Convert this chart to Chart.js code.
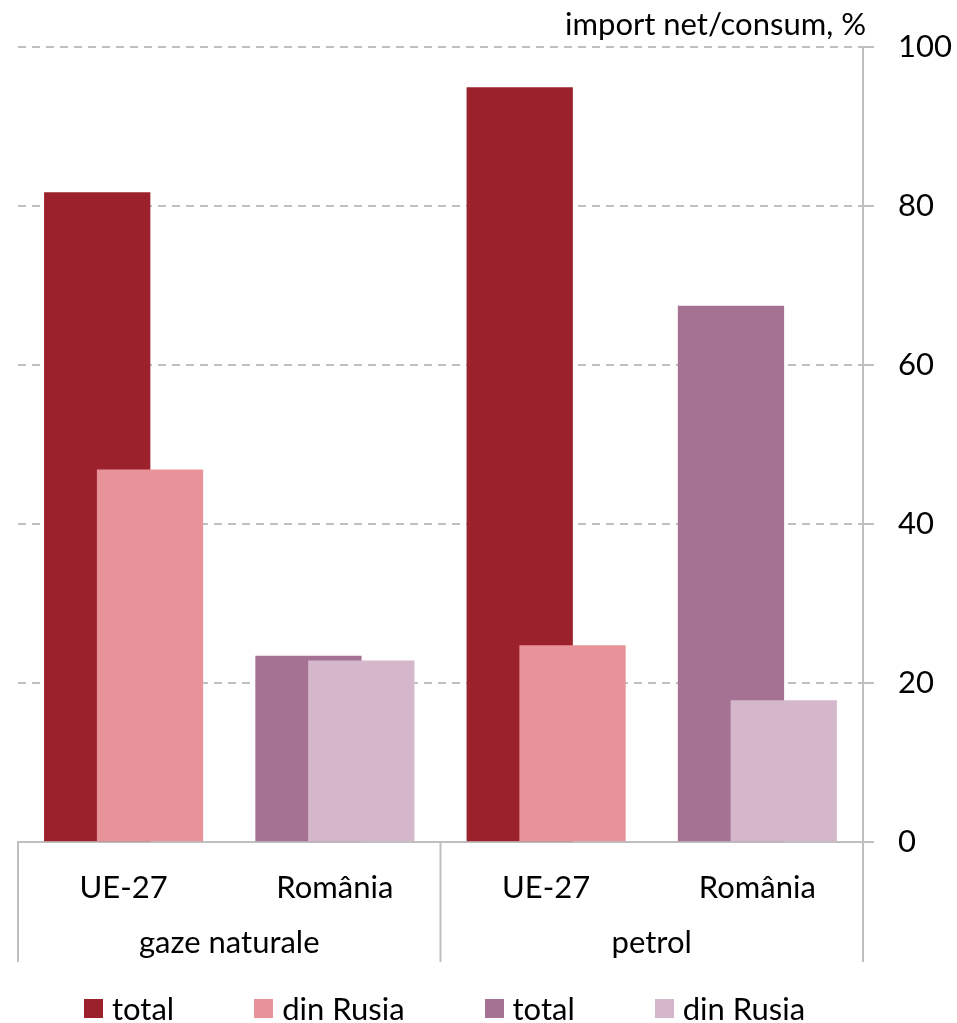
<!DOCTYPE html>
<html lang="ro">
<head>
<meta charset="utf-8">
<title>Import net / consum</title>
<script src="https://cdn.jsdelivr.net/npm/chart.js@4.4.1/dist/chart.umd.min.js"></script>
<style>
  html, body { margin: 0; padding: 0; background: #fff; }
  #wrap { position: relative; width: 957px; height: 1023px; }
  #legend { position: absolute; left: 84px; top: 993px; display: flex; font-family: Lato, sans-serif; font-size: 31px; line-height: 31px; color: #000; }
  #legend .item { display: flex; align-items: center; margin-right: 80px; }
  #legend .box { width: 19px; height: 19px; margin-right: 9px; }
</style>
</head>
<body>
<div id="wrap">
  <canvas id="chart" width="957" height="1023"></canvas>
  <div id="legend"></div>
</div>
<script>
const categories = ['UE-27', 'România', 'UE-27', 'România'];
const groups = ['gaze naturale', 'petrol'];
const ueTotal = [81.7, null, 94.9, null];
const ueRusia = [46.8, null, 24.7, null];
const roTotal = [null, 23.4, null, 67.4];
const roRusia = [null, 22.8, null, 17.8];
const seriesNames = ['total', 'din Rusia', 'total', 'din Rusia'];
const seriesColors = ['#9B222D', '#E8939A', '#A57294', '#D5B7CB'];
const yMin = 0, yMax = 100, yStep = 20;
const axisTitle = 'import net/consum, %';

const gridGray = '#BFBFBF';
Chart.defaults.font.family = 'Lato, sans-serif';
Chart.defaults.font.size = 31;
Chart.defaults.color = '#000';

// left bar of each pair goes under the right one
const drawInOrder = {
  id: 'drawInOrder',
  beforeDatasetsDraw(chart) {
    chart.getSortedVisibleDatasetMetas().forEach(meta => meta.controller.draw());
    return false;
  }
};

// group separators under the axis + unit label over the value axis
const extras = {
  id: 'extras',
  afterDraw(chart) {
    const { ctx, chartArea } = chart;
    const x2 = chart.scales.x2;
    ctx.save();
    ctx.strokeStyle = gridGray;
    ctx.lineWidth = 2;
    const n = groups.length;
    for (let i = 0; i <= n; i++) {
      const x = chartArea.left + (chartArea.right - chartArea.left) * i / n;
      ctx.beginPath();
      ctx.moveTo(x, chartArea.bottom);
      ctx.lineTo(x, x2.bottom);
      ctx.stroke();
    }
    ctx.fillStyle = '#000';
    ctx.font = '31px Lato, sans-serif';
    ctx.textAlign = 'right';
    ctx.textBaseline = 'alphabetic';
    ctx.fillText(axisTitle, chartArea.right + 3, chartArea.top - 12);
    ctx.restore();
  }
};

const htmlLegend = {
  id: 'htmlLegend',
  afterUpdate(chart) {
    const box = document.getElementById('legend');
    box.innerHTML = '';
    chart.data.datasets.forEach(ds => {
      const item = document.createElement('div');
      item.className = 'item';
      const sw = document.createElement('span');
      sw.className = 'box';
      sw.style.background = ds.backgroundColor;
      const txt = document.createElement('span');
      txt.textContent = ds.label;
      item.appendChild(sw);
      item.appendChild(txt);
      box.appendChild(item);
    });
  }
};

const seriesData = [ueTotal, ueRusia, roTotal, roRusia];

new Chart(document.getElementById('chart'), {
  type: 'bar',
  data: {
    labels: categories,
    datasets: seriesData.map((d, i) => ({
      label: seriesNames[i],
      data: d,
      backgroundColor: seriesColors[i],
      borderWidth: 0,
      skipNull: true,
      categoryPercentage: 0.5,
      barPercentage: 2.0
    }))
  },
  options: {
    responsive: false,
    animation: false,
    layout: { padding: { left: 18, top: 47, right: 0, bottom: 61 } },
    plugins: {
      legend: { display: false },
      tooltip: { enabled: false }
    },
    scales: {
      x: {
        grid: { display: false, drawTicks: false },
        border: { display: true, color: gridGray, width: 2 },
        ticks: { padding: 27, maxRotation: 0, autoSkip: false },
        afterFit(scale) { scale.height = 68; }
      },
      x2: {
        type: 'category',
        labels: groups,
        position: 'bottom',
        offset: true,
        grid: { display: false, drawTicks: false },
        border: { display: false },
        ticks: { padding: 14, maxRotation: 0 },
        afterFit(scale) { scale.height = 52; }
      },
      y: {
        position: 'right',
        min: yMin,
        max: yMax,
        ticks: { stepSize: yStep, padding: 24 },
        grid: {
          color: gridGray,
          lineWidth: 2,
          tickLength: 11,
          tickColor: gridGray,
          tickWidth: 2,
          tickBorderDash: []
        },
        border: { display: true, color: gridGray, width: 2, dash: [8, 6] },
        afterFit(scale) { scale.width = 94; }
      }
    }
  },
  plugins: [drawInOrder, extras, htmlLegend]
});
</script>
</body>
</html>
